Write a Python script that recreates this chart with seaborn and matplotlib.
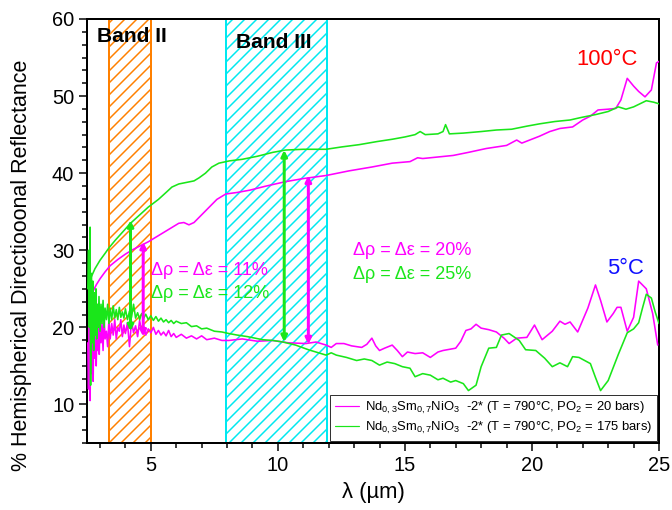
import matplotlib
matplotlib.use("Agg")
import matplotlib.pyplot as plt
import seaborn as sns
import pandas as pd
from matplotlib.lines import Line2D

# ---------------- data ----------------
# PO2 = 20 bars, 5 degC (magenta, lower)
m5_x = [2.52, 2.55, 2.58, 2.61, 2.64, 2.67, 2.70, 2.73, 2.76, 2.79, 2.82, 2.85, 2.88, 2.91,
        2.94, 2.97, 3.00, 3.04, 3.08, 3.12, 3.16, 3.20, 3.25, 3.30, 3.35, 3.40, 3.46, 3.52,
        3.58, 3.64, 3.70, 3.76, 3.82, 3.88, 3.94, 4.00, 4.08, 4.16, 4.24, 4.32, 4.40, 4.48,
        4.56, 4.64, 4.72, 4.80, 4.90, 5.00, 5.10, 5.20, 5.30, 5.40, 5.50, 5.60, 5.70, 5.80,
        5.90, 6.00, 6.20, 6.40, 6.60, 6.80, 7.00, 7.20, 7.50, 7.80, 8.07, 8.6, 9.2, 9.8,
        10.4, 11.1, 11.5, 11.9, 12.1, 12.3, 12.6, 12.9, 13.3, 13.5, 13.7, 13.85, 14.0, 14.2,
        14.5, 14.7, 14.9, 15.1, 15.4, 15.7, 16.0, 16.3, 16.5, 17.0, 17.2, 17.4, 17.6, 17.8,
        18.0, 18.3, 18.6, 18.9, 19.1, 19.4, 19.8, 20.1, 20.4, 20.8, 21.1, 21.3, 21.5, 21.8,
        22.2, 22.5, 22.7, 22.95, 23.2, 23.35, 23.5, 23.75, 24.0, 24.2, 24.5, 24.75, 24.95]
m5_y = [18.0, 12.0, 22.0, 10.5, 20.0, 14.0, 24.0, 13.0, 21.0, 16.0, 23.0, 15.0, 20.0, 17.0,
        22.0, 16.5, 21.0, 18.0, 20.5, 17.0, 21.5, 18.5, 19.5, 17.5, 21.0, 18.5, 20.5, 19.0,
        21.0, 18.5, 20.0, 19.5, 21.0, 18.8, 20.3, 19.2, 20.6, 17.5, 20.8, 19.3, 20.2, 18.8,
        20.9, 19.4, 20.1, 19.0, 19.8, 19.3, 20.0, 19.1, 19.6, 19.0, 19.4, 18.9, 19.6, 18.8,
        19.2, 18.7, 19.1, 18.6, 18.9, 18.5, 18.9, 18.4, 18.6, 18.3, 18.3, 18.5, 18.2, 18.3,
        18.0, 17.9, 18.1, 17.7, 17.4, 17.9, 17.9, 17.6, 17.4, 17.8, 18.6, 17.6, 17.0, 17.3,
        17.7, 17.0, 16.2, 16.8, 16.6, 16.7, 16.1, 16.8, 17.0, 17.3, 18.2, 19.6, 19.8, 20.4,
        19.9, 19.7, 19.4, 18.6, 17.9, 18.6, 18.7, 20.3, 18.4, 19.5, 20.8, 20.4, 20.7, 19.4,
        22.5, 25.5, 23.5, 20.7, 21.8, 22.6, 22.6, 19.5, 21.3, 26.0, 25.0, 21.8, 17.7]

# PO2 = 20 bars, 100 degC (magenta, upper)
m100_x = [2.60, 2.70, 2.85, 3.00, 3.20, 3.40, 3.70, 4.00, 4.30, 4.60, 4.90, 5.20, 5.50, 5.80,
          6.10, 6.30, 6.50, 6.70, 7.00, 7.30, 7.60, 7.95, 8.40, 8.90, 9.50, 10.3, 11.0, 11.9,
          12.8, 13.7, 14.5, 15.2, 15.5, 15.7, 16.3, 16.9, 17.5, 18.2, 19.0, 19.4, 19.6, 20.3,
          20.7, 21.1, 21.6, 22.0, 22.3, 22.6, 23.0, 23.3, 23.5, 23.75, 24.0, 24.2, 24.45,
          24.7, 24.9, 25.0]
m100_y = [22.0, 24.5, 25.5, 26.3, 27.2, 28.0, 28.8, 29.5, 30.1, 30.6, 31.1, 31.7, 32.3, 32.9,
          33.5, 33.6, 33.3, 33.6, 34.6, 35.6, 36.6, 37.3, 37.5, 37.8, 38.3, 38.9, 39.3, 39.7,
          40.3, 40.8, 41.3, 41.5, 42.0, 41.9, 42.1, 42.3, 42.7, 43.2, 43.6, 44.3, 43.9, 44.8,
          45.4, 45.8, 46.0, 46.9, 47.4, 48.2, 48.3, 48.4, 49.5, 52.3, 51.3, 50.6, 49.9,
          50.8, 54.3, 54.5]

# PO2 = 175 bars, 100 degC (green, upper)
g100_x = [2.58, 2.65, 2.80, 3.00, 3.20, 3.35, 3.60, 3.90, 4.20, 4.50, 4.90, 5.30, 5.60, 5.83,
          6.10, 6.40, 6.70, 6.90, 7.15, 7.40, 7.68, 8.10, 8.60, 9.20, 9.80, 10.3, 11.0, 11.9,
          12.5, 13.2, 13.9, 14.5, 15.0, 15.4, 15.6, 15.8, 16.3, 16.5, 16.6, 16.75, 17.3, 18.0,
          18.6, 19.2, 19.8, 20.3, 20.9, 21.5, 21.9, 22.5, 23.0, 23.4, 23.7, 24.0, 24.5, 24.8,
          25.0]
g100_y = [25.0, 26.5, 27.6, 28.7, 29.6, 30.3, 31.3, 32.4, 33.5, 34.4, 35.6, 36.6, 37.5, 38.2,
          38.6, 38.8, 39.0, 39.4, 40.0, 40.8, 41.3, 41.6, 41.8, 42.2, 42.7, 43.0, 43.1, 43.1,
          43.4, 43.7, 44.1, 44.4, 44.7, 45.0, 45.4, 45.0, 45.1, 45.4, 46.3, 45.1, 45.2, 45.4,
          45.6, 45.7, 46.1, 46.4, 46.7, 46.9, 47.2, 47.6, 48.0, 48.6, 48.3, 48.6, 49.4, 49.2,
          49.0]

# PO2 = 175 bars, 5 degC (green, lower)
g5_x = [2.52, 2.55, 2.58, 2.61, 2.63, 2.66, 2.69, 2.72, 2.75, 2.78, 2.81, 2.84, 2.87, 2.90,
        2.93, 2.96, 3.00, 3.04, 3.08, 3.12, 3.16, 3.20, 3.25, 3.30, 3.35, 3.40, 3.46, 3.52,
        3.58, 3.64, 3.70, 3.76, 3.82, 3.88, 3.94, 4.00, 4.08, 4.16, 4.24, 4.32, 4.40, 4.48,
        4.56, 4.64, 4.72, 4.80, 4.90, 5.00, 5.10, 5.20, 5.30, 5.40, 5.50, 5.60, 5.70, 5.80,
        5.90, 6.00, 6.20, 6.40, 6.60, 6.80, 7.00, 7.20, 7.50, 7.80, 8.07, 8.40, 8.80, 9.40,
        9.80, 10.2, 10.7, 11.2, 11.6, 11.9, 12.1, 12.3, 12.7, 13.1, 13.4, 13.7, 14.0, 14.3,
        14.6, 14.9, 15.2, 15.4, 15.7, 16.0, 16.3, 16.5, 16.8, 17.0, 17.3, 17.5, 17.8, 18.0,
        18.3, 18.6, 18.8, 19.1, 19.5, 19.75, 20.15, 20.5, 20.8, 21.1, 21.4, 21.6, 21.85, 22.3,
        22.5, 22.7, 23.0, 23.4, 23.75, 24.0, 24.2, 24.35, 24.5, 24.7, 24.85, 25.0]
g5_y = [25.0, 30.0, 20.0, 33.0, 12.5, 27.0, 18.0, 26.0, 17.0, 24.5, 19.0, 25.0, 18.5, 23.0,
        20.0, 24.0, 19.5, 23.0, 20.5, 23.5, 20.0, 22.5, 21.0, 23.0, 20.5, 22.5, 21.0, 22.8,
        21.2, 22.3, 21.0, 22.6, 21.3, 22.0, 21.2, 22.4, 21.0, 22.1, 21.3, 23.0, 21.2, 21.9,
        21.0, 21.8, 21.2, 21.7, 21.0, 21.5, 20.9, 21.4, 20.8, 21.2, 20.7, 21.0, 20.6, 20.9,
        20.5, 20.8, 20.5, 20.6, 20.1, 20.2, 19.8, 19.9, 19.5, 19.4, 19.2, 19.0, 18.8, 18.4,
        18.3, 18.1, 17.7, 17.1, 16.7, 16.4, 16.7, 16.4, 16.1, 15.7, 15.9, 15.7, 15.1, 15.5,
        15.3, 14.9, 14.7, 13.6, 14.0, 13.8, 13.2, 13.4, 12.9, 13.1, 12.7, 11.8, 12.5, 14.9,
        17.3, 17.4, 19.0, 19.2, 18.3, 17.1, 17.0, 16.0, 14.9, 15.4, 14.9, 16.2, 16.1, 15.3,
        13.5, 11.8, 13.1, 16.5, 19.3, 19.8, 20.6, 22.5, 24.3, 23.8, 22.0, 20.5]

band_labels = ["Band II", "Band III"]
band_ranges = [(3.35, 5.0), (7.95, 11.92)]
series_labels = [r"Nd$_{0,3}$Sm$_{0,7}$NiO$_3$  -2* (T = 790°C, PO$_2$ = 20 bars)",
                 r"Nd$_{0,3}$Sm$_{0,7}$NiO$_3$  -2* (T = 790°C, PO$_2$ = 175 bars)"]
delta_texts = ["Δρ = Δε = 11%", "Δρ = Δε = 12%", "Δρ = Δε = 20%", "Δρ = Δε = 25%"]

# ---------------- style ----------------
sns.set_style("ticks")
plt.rcParams["font.family"] = ["Liberation Sans", "DejaVu Sans"]
plt.rcParams["mathtext.default"] = "regular"
plt.rcParams["hatch.linewidth"] = 1.5
for key in ["text.color", "axes.labelcolor", "xtick.color", "ytick.color"]:
    plt.rcParams[key] = "black"

MAG = "#FF00FF"
GRN = "#1AE61A"
ORG = "#FF8000"
CYA = "#00E8F0"

fig = plt.figure(figsize=(672 / 72, 510 / 72), dpi=72)
ax = fig.add_axes([87.3 / 672, 1 - 443 / 510, (659 - 87.3) / 672, (443 - 19) / 510])

# bands
ax.axvspan(*band_ranges[0], facecolor="none", edgecolor=ORG, hatch="//", lw=2, zorder=1)
ax.axvspan(*band_ranges[1], facecolor="none", edgecolor=CYA, hatch="//", lw=2, zorder=1)

frames = [
    (m5_x, m5_y, MAG), (m100_x, m100_y, MAG),
    (g5_x, g5_y, GRN), (g100_x, g100_y, GRN),
]
for xs, ys, c in frames:
    df = pd.DataFrame({"x": xs, "y": ys})
    sns.lineplot(data=df, x="x", y="y", color=c, lw=1.6, estimator=None, sort=False,
                 ax=ax, zorder=3)

# arrows
def darrow(x, y0, y1, c):
    ax.annotate("", xy=(x, y1), xytext=(x, y0),
                arrowprops=dict(arrowstyle="<|-|>", color=c, lw=3, mutation_scale=12,
                                shrinkA=0, shrinkB=0), zorder=4)

darrow(4.2, 19.5, 33.9, GRN)
darrow(4.7, 18.8, 31.1, MAG)
darrow(10.25, 18.1, 43.0, GRN)
darrow(11.2, 17.8, 39.7, MAG)

# texts
ax.text(2.87, 57.7, band_labels[0], fontsize=21, fontweight="bold", ha="left", va="center")
ax.text(8.37, 57.0, band_labels[1], fontsize=21, fontweight="bold", ha="left", va="center")
ax.text(5.02, 27.4, delta_texts[0], color=MAG, fontsize=18, ha="left", va="center")
ax.text(5.02, 24.4, delta_texts[1], color=GRN, fontsize=18, ha="left", va="center")
ax.text(12.95, 30.0, delta_texts[2], color=MAG, fontsize=18, ha="left", va="center")
ax.text(12.95, 26.8, delta_texts[3], color=GRN, fontsize=18, ha="left", va="center")
ax.text(22.95, 54.8, "100°C", color="#FF0000", fontsize=22, ha="center", va="center")
ax.text(23.68, 27.7, "5°C", color="#1010FF", fontsize=22, ha="center", va="center")

# axes
ax.set_xlim(2.5, 25)
ax.set_ylim(5, 60)
ax.set_xticks([5, 10, 15, 20, 25])
ax.set_yticks([10, 20, 30, 40, 50, 60])
ax.xaxis.set_minor_locator(matplotlib.ticker.MultipleLocator(1))
ax.yaxis.set_minor_locator(matplotlib.ticker.MultipleLocator(10 / 6))
ax.tick_params(which="major", direction="out", length=8, width=1.5, labelsize=20,
               top=False, right=False, pad=5, colors="black")
ax.tick_params(which="minor", direction="out", length=5, width=1.5, top=False, right=False,
               colors="black")
for s in ax.spines.values():
    s.set_visible(True)
    s.set_linewidth(2)
    s.set_color("black")
ax.set_xlabel("λ (µm)", fontsize=22, labelpad=7, color="black")
ax.set_ylabel("% Hemispherical Directiooonal Reflectance", fontsize=21.5, color="black")
ax.yaxis.set_label_coords(-0.097, 0.42)

handles = [Line2D([0], [0], color=MAG, lw=1.2), Line2D([0], [0], color=GRN, lw=1.2)]
leg = ax.legend(handles, series_labels, loc="lower right", bbox_to_anchor=(1.0, 0.0),
                fontsize=13, frameon=True, fancybox=False, edgecolor="black",
                handlelength=1.9, handletextpad=0.4, borderpad=0.4, labelspacing=0.3,
                borderaxespad=0.15)
leg.get_frame().set_linewidth(1.0)
for t in leg.get_texts():
    t.set_color("black")
leg.set_zorder(5)

fig.savefig("out.png", dpi=72)
